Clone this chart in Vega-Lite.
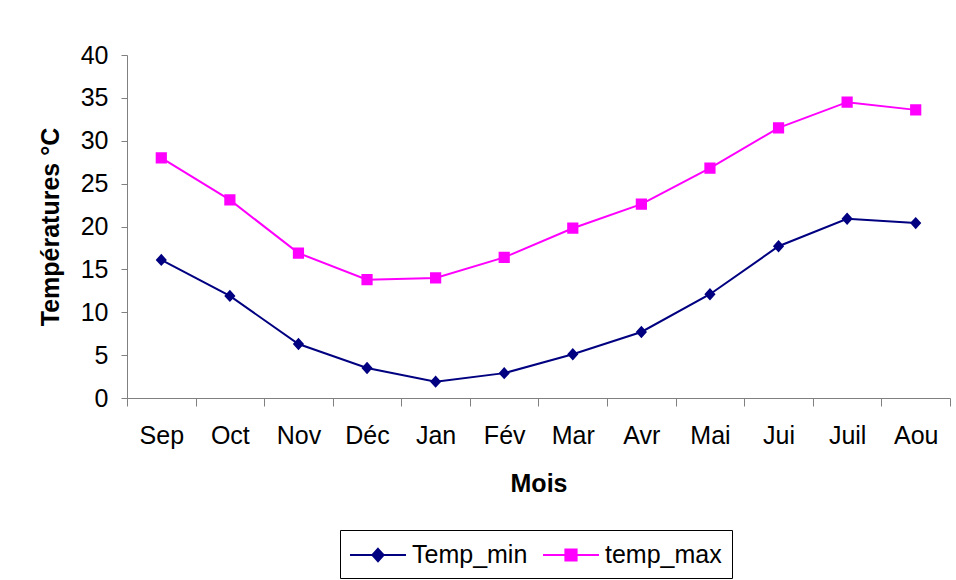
{
  "$schema": "https://vega.github.io/schema/vega-lite/v6.json",
  "width": 823,
  "height": 343,
  "autosize": {"type": "none"},
  "padding": {"left": 127, "top": 55, "right": 6, "bottom": 182},
  "background": "white",
  "data": {
    "values": [
      {"mois": "Sep", "serie": "Temp_min", "temp": 16.1},
      {"mois": "Oct", "serie": "Temp_min", "temp": 11.9},
      {"mois": "Nov", "serie": "Temp_min", "temp": 6.3},
      {"mois": "Déc", "serie": "Temp_min", "temp": 3.5},
      {"mois": "Jan", "serie": "Temp_min", "temp": 1.9},
      {"mois": "Fév", "serie": "Temp_min", "temp": 2.9},
      {"mois": "Mar", "serie": "Temp_min", "temp": 5.1},
      {"mois": "Avr", "serie": "Temp_min", "temp": 7.7},
      {"mois": "Mai", "serie": "Temp_min", "temp": 12.1},
      {"mois": "Jui", "serie": "Temp_min", "temp": 17.7},
      {"mois": "Juil", "serie": "Temp_min", "temp": 20.9},
      {"mois": "Aou", "serie": "Temp_min", "temp": 20.4},
      {"mois": "Sep", "serie": "temp_max", "temp": 28.0},
      {"mois": "Oct", "serie": "temp_max", "temp": 23.1},
      {"mois": "Nov", "serie": "temp_max", "temp": 16.9},
      {"mois": "Déc", "serie": "temp_max", "temp": 13.8},
      {"mois": "Jan", "serie": "temp_max", "temp": 14.0},
      {"mois": "Fév", "serie": "temp_max", "temp": 16.4},
      {"mois": "Mar", "serie": "temp_max", "temp": 19.8},
      {"mois": "Avr", "serie": "temp_max", "temp": 22.6},
      {"mois": "Mai", "serie": "temp_max", "temp": 26.8},
      {"mois": "Jui", "serie": "temp_max", "temp": 31.5},
      {"mois": "Juil", "serie": "temp_max", "temp": 34.5},
      {"mois": "Aou", "serie": "temp_max", "temp": 33.6}
    ]
  },
  "encoding": {
    "x": {
      "field": "mois",
      "type": "ordinal",
      "sort": null,
      "title": "Mois",
      "scale": {"type": "band", "paddingInner": 0, "paddingOuter": 0},
      "axis": {
        "tickBand": "extent",
        "labelAngle": 0,
        "tickSize": 8,
        "labelPadding": 17,
        "titlePadding": 23
      }
    },
    "y": {
      "field": "temp",
      "type": "quantitative",
      "title": "Températures °C",
      "scale": {"domain": [0, 40], "nice": false},
      "axis": {
        "values": [0, 5, 10, 15, 20, 25, 30, 35, 40],
        "grid": false,
        "tickSize": 6,
        "labelPadding": 13,
        "titlePadding": 17
      }
    },
    "color": {
      "field": "serie",
      "type": "nominal",
      "scale": {"domain": ["Temp_min", "temp_max"], "range": ["#000080", "#FF00FF"]},
      "legend": {
        "title": null,
        "orient": "none",
        "legendX": 213,
        "legendY": 475,
        "direction": "horizontal",
        "columns": 2,
        "padding": 10,
        "strokeColor": "#000000",
        "fillColor": "white",
        "symbolSize": 784,
        "symbolOffset": 13,
        "labelOffset": 19,
        "columnPadding": 11,
        "labelFontSize": 25,
        "labelFont": "Liberation Sans",
        "labelColor": "#000000",
        "encode": {
          "symbols": {
            "update": {
              "stroke": {"scale": "color", "field": "value"},
              "fill": {"scale": "color", "field": "value"},
              "strokeWidth": {"value": 2},
              "opacity": {"value": 1}
            }
          }
        }
      }
    }
  },
  "layer": [
    {
      "mark": {"type": "line", "strokeWidth": 2}
    },
    {
      "mark": {"type": "point", "filled": true, "opacity": 1, "size": 784},
      "encoding": {
        "shape": {
          "field": "serie",
          "type": "nominal",
          "scale": {
            "domain": ["Temp_min", "temp_max"],
            "range": ["M-2,0H2M0,-0.44L0.4,0L0,0.44L-0.4,0Z", "M-2,0H2M-0.4,-0.4H0.4V0.4H-0.4Z"]
          },
          "legend": {
            "title": null,
            "orient": "none",
            "legendX": 213,
            "legendY": 475,
            "direction": "horizontal",
            "columns": 2,
            "padding": 10,
            "strokeColor": "#000000",
            "fillColor": "white",
            "symbolSize": 784,
            "symbolOffset": 13,
            "labelOffset": 19,
            "columnPadding": 11,
            "labelFontSize": 25,
            "labelFont": "Liberation Sans",
            "labelColor": "#000000",
            "encode": {
              "symbols": {
                "update": {
                  "stroke": {"scale": "color", "field": "value"},
                  "fill": {"scale": "color", "field": "value"},
                  "strokeWidth": {"value": 2},
                  "opacity": {"value": 1}
                }
              }
            }
          }
        }
      }
    }
  ],
  "config": {
    "view": {"stroke": null},
    "font": "Liberation Sans",
    "axis": {
      "domainColor": "#808080",
      "tickColor": "#808080",
      "labelColor": "#000000",
      "titleColor": "#000000",
      "labelFont": "Liberation Sans",
      "titleFont": "Liberation Sans",
      "labelFontSize": 25,
      "titleFontSize": 25,
      "titleFontWeight": "bold",
      "domainWidth": 1,
      "tickWidth": 1
    }
  }
}
